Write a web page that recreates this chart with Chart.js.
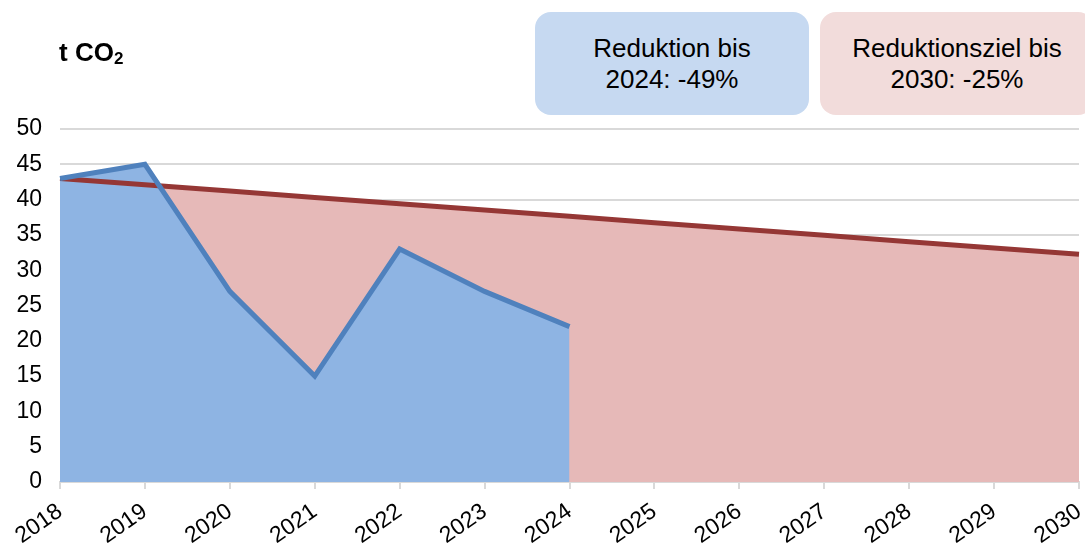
<!DOCTYPE html>
<html>
<head>
<meta charset="utf-8">
<script src="https://cdn.jsdelivr.net/npm/chart.js@4/dist/chart.umd.min.js"></script>
<style>
  html, body { margin: 0; padding: 0; background: #fff; }
  #wrap { position: relative; width: 1085px; height: 543px; overflow: hidden; font-family: "Liberation Sans", Arial, sans-serif; }
  #unit { position: absolute; left: 59px; top: 37px; font-size: 26px; font-weight: bold; color: #000; }
  #unit sub { font-size: 17px; vertical-align: -3px; }
  .box { position: absolute; top: 12px; height: 103px; width: 274px; border-radius: 16px; display: flex; align-items: center; justify-content: center; text-align: center; font-size: 26px; line-height: 31px; color: #000; }
  #boxBlue { left: 535px; background: #c6d9f1; }
  #boxRed { left: 820px; background: #f2dcdb; }
</style>
</head>
<body>
<div id="wrap">
  <canvas id="chart" width="1085" height="543"></canvas>
  <div id="unit">t CO<sub>2</sub></div>
  <div class="box" id="boxBlue">Reduktion bis<br>2024: -49%</div>
  <div class="box" id="boxRed">Reduktionsziel bis<br>2030: -25%</div>
</div>
<script>
const years = ["2018", "2019", "2020", "2021", "2022", "2023", "2024", "2025", "2026", "2027", "2028", "2029", "2030"];
const actual = [43, 45, 27, 15, 33, 27, 22, null, null, null, null, null, null];
const target = [43, 42.10, 41.21, 40.31, 39.42, 38.52, 37.63, 36.73, 35.83, 34.94, 34.04, 33.15, 32.25];
const yTicks = [0, 5, 10, 15, 20, 25, 30, 35, 40, 45, 50];

Chart.defaults.font.family = "'Liberation Sans', Arial, sans-serif";
Chart.defaults.color = "#000";

const ctx = document.getElementById("chart").getContext("2d");
new Chart(ctx, {
    type: "line",
    data: {
        labels: years,
        datasets: [{
            label: "Emissionen",
            data: actual,
            borderColor: "#4f81bd",
            backgroundColor: "#8eb4e3",
            borderWidth: 5,
            fill: "origin",
            pointRadius: 0,
            tension: 0,
            spanGaps: false
        }, {
            label: "Zielpfad",
            data: target,
            borderColor: "#953735",
            backgroundColor: "#e6b9b8",
            borderWidth: 5,
            fill: "origin",
            pointRadius: 0,
            tension: 0
        }]
    },
    options: {
        responsive: false,
        animation: false,
        layout: { padding: { top: 129, right: 6, left: 0, bottom: 0 } },
        plugins: {
            legend: { display: false },
            tooltip: { enabled: false },
            filler: { drawTime: "beforeDatasetsDraw" }
        },
        scales: {
            x: {
                offset: false,
                grid: { drawOnChartArea: false, color: "#d9d9d9", lineWidth: 2, tickLength: 7 },
                border: { color: "#d9d9d9", width: 2 },
                ticks: { font: { size: 23 }, minRotation: 35, maxRotation: 35, padding: 9 },
                afterFit: (s) => { s.height = 61; s.paddingLeft = 0; s.paddingRight = 0; }
            },
            y: {
                min: 0,
                max: 50,
                afterBuildTicks: (s) => { s.ticks = yTicks.map(v => ({ value: v })); },
                grid: { color: "#d9d9d9", lineWidth: 2, drawTicks: false },
                border: { display: false },
                ticks: { font: { size: 23 }, padding: 18 },
                afterFit: (s) => { s.width = 60; s.paddingTop = 0; s.paddingBottom = 0; }
            }
        }
    }
});
</script>
</body>
</html>
